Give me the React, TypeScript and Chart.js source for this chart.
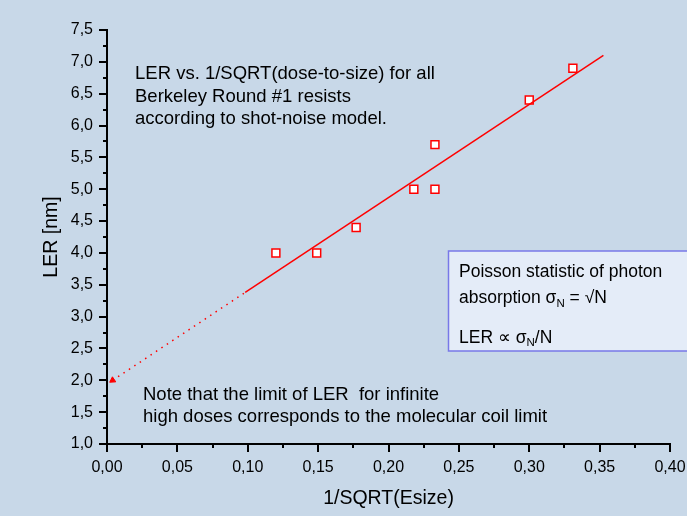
import React, { useEffect, useRef } from "react";
import { Chart, registerables } from "chart.js";

Chart.register(...registerables);

// Measured data (1/SQRT(Esize) vs LER [nm])
const xValues = [0.12, 0.149, 0.177, 0.218, 0.233, 0.233, 0.3, 0.331];
const yValues = [4.0, 4.0, 4.4, 5.0, 5.0, 5.7, 6.4, 6.9];

// Shot-noise model fit (solid part) and extrapolation (dotted part)
const fitX = [0.0982, 0.3527];
const fitY = [3.38, 7.1];
const extX = [0.004, 0.0982];
const extY = [2.0, 3.38];

// Axis ranges / ticks
const xMin = 0, xMax = 0.4, xStep = 0.05;
const yMin = 1.0, yMax = 7.5, yStep = 0.5;

// Texts
const xTitle = "1/SQRT(Esize)";
const yTitle = "LER [nm]";
const topNote = [
  "LER vs. 1/SQRT(dose-to-size) for all",
  "Berkeley Round #1 resists",
  "according to shot-noise model.",
];
const bottomNote = [
  "Note that the limit of LER  for infinite",
  "high doses corresponds to the molecular coil limit",
];
const boxLine1 = "Poisson statistic of photon";

const FONT = '"Liberation Sans", Arial, Helvetica, sans-serif';
const BG = "#c8d8e8";

const fmt = (v: number, d: number) => v.toFixed(d).replace(".", ",");

const decorPlugin = {
  id: "decor",
  beforeDraw(chart: any) {
    const { ctx, width, height } = chart;
    ctx.save();
    ctx.fillStyle = BG;
    ctx.fillRect(0, 0, width, height);
    ctx.restore();
  },
  afterDraw(chart: any) {
    const { ctx, chartArea } = chart;
    const xs = chart.scales.x;
    const ys = chart.scales.y;
    ctx.save();
    // minor ticks
    ctx.strokeStyle = "#000";
    ctx.lineWidth = 2;
    ctx.beginPath();
    for (let v = xMin + xStep / 2; v < xMax; v += xStep) {
      const px = Math.round(xs.getPixelForValue(v));
      ctx.moveTo(px, chartArea.bottom);
      ctx.lineTo(px, chartArea.bottom + 4);
    }
    for (let v = yMin + yStep / 2; v < yMax; v += yStep) {
      const py = Math.round(ys.getPixelForValue(v));
      ctx.moveTo(chartArea.left, py);
      ctx.lineTo(chartArea.left - 4, py);
    }
    ctx.stroke();

    // notes
    ctx.fillStyle = "#000";
    ctx.textBaseline = "alphabetic";
    ctx.textAlign = "left";
    ctx.font = `18.5px ${FONT}`;
    topNote.forEach((t, i) => ctx.fillText(t, 135, 79 + i * 22.5));
    bottomNote.forEach((t, i) => ctx.fillText(t, 143, 399.5 + i * 22.4));

    // info box
    ctx.fillStyle = "#e4ecf8";
    ctx.fillRect(448.5, 251, 260, 100);
    ctx.strokeStyle = "#7878e8";
    ctx.lineWidth = 1.5;
    ctx.strokeRect(448.5, 251, 260, 100);

    const big = `17.5px ${FONT}`;
    const small = `11.5px ${FONT}`;
    ctx.fillStyle = "#000";
    ctx.font = big;
    ctx.fillText(boxLine1, 459, 277.3);

    const drawRun = (parts: [string, boolean][], x: number, y: number) => {
      let cx = x;
      for (const [s, sub] of parts) {
        ctx.font = sub ? small : big;
        ctx.fillText(s, cx, sub ? y + 3.5 : y);
        cx += ctx.measureText(s).width;
      }
    };
    drawRun(
      [["absorption ", false], ["σ", false], ["N", true], [" = √N", false]],
      459,
      303.3
    );
    drawRun(
      [["LER ", false], ["∝", false], [" σ", false], ["N", true], ["/N", false]],
      459,
      342.7
    );
    ctx.restore();
  },
};

export default function App() {
  const ref = useRef<HTMLCanvasElement | null>(null);

  useEffect(() => {
    document.body.style.margin = "0";
    const canvas = ref.current;
    if (!canvas) return;
    const chart = new Chart(canvas, {
      type: "scatter",
      data: {
        datasets: [
          {
            data: extX.map((x, i) => ({ x, y: extY[i] })),
            showLine: true,
            borderColor: "#ff0000",
            borderWidth: 1.5,
            borderDash: [1.5, 5],
            pointRadius: [3.5, 0],
            pointStyle: "triangle",
            rotation: 236.5,
            pointBackgroundColor: "#ff0000",
            pointBorderColor: "#ff0000",
            pointBorderWidth: 1,
            clip: false,
          },
          {
            data: fitX.map((x, i) => ({ x, y: fitY[i] })),
            showLine: true,
            borderColor: "#ff0000",
            borderWidth: 1.5,
            pointRadius: 0,
            clip: false,
          },
          {
            data: xValues.map((x, i) => ({ x, y: yValues[i] })),
            showLine: false,
            pointStyle: "rect",
            pointRadius: 5.6,
            pointBackgroundColor: "#ffffff",
            pointBorderColor: "#ff0000",
            pointBorderWidth: 1.5,
            clip: false,
          },
        ],
      },
      options: {
        animation: false,
        responsive: true,
        maintainAspectRatio: false,
        layout: { padding: { top: 30, right: 17, left: 0, bottom: 0 } },
        plugins: {
          legend: { display: false },
          tooltip: { enabled: false },
        },
        scales: {
          x: {
            type: "linear",
            min: xMin,
            max: xMax,
            afterFit: (s: any) => {
              s.height = 72;
              s.paddingLeft = 0;
              s.paddingRight = 0;
            },
            ticks: {
              stepSize: xStep,
              color: "#000",
              padding: 6,
              maxRotation: 0,
              font: { family: FONT, size: 16 },
              callback: (v: any) => fmt(Number(v), 2),
            },
            grid: {
              drawOnChartArea: false,
              drawTicks: true,
              tickLength: 8,
              color: "#000",
              lineWidth: 2,
            },
            border: { display: true, color: "#000", width: 2 },
            title: {
              display: true,
              text: xTitle,
              color: "#000",
              font: { family: FONT, size: 19.5 },
              padding: { top: 0, bottom: 6 },
            },
          },
          y: {
            type: "linear",
            min: yMin,
            max: yMax,
            afterFit: (s: any) => {
              s.width = 107;
              s.paddingTop = 0;
              s.paddingBottom = 0;
            },
            ticks: {
              stepSize: yStep,
              color: "#000",
              padding: 6,
              font: { family: FONT, size: 16 },
              callback: (v: any) => fmt(Number(v), 1),
            },
            grid: {
              drawOnChartArea: false,
              drawTicks: true,
              tickLength: 8,
              color: "#000",
              lineWidth: 2,
            },
            border: { display: true, color: "#000", width: 2 },
            title: {
              display: true,
              text: yTitle,
              color: "#000",
              font: { family: FONT, size: 19.5 },
              padding: { top: 40, bottom: 0 },
            },
          },
        },
      },
      plugins: [decorPlugin],
    });
    return () => chart.destroy();
  }, []);

  return (
    <div style={{ width: 687, height: 516, position: "relative" }}>
      <canvas ref={ref} />
    </div>
  );
}
